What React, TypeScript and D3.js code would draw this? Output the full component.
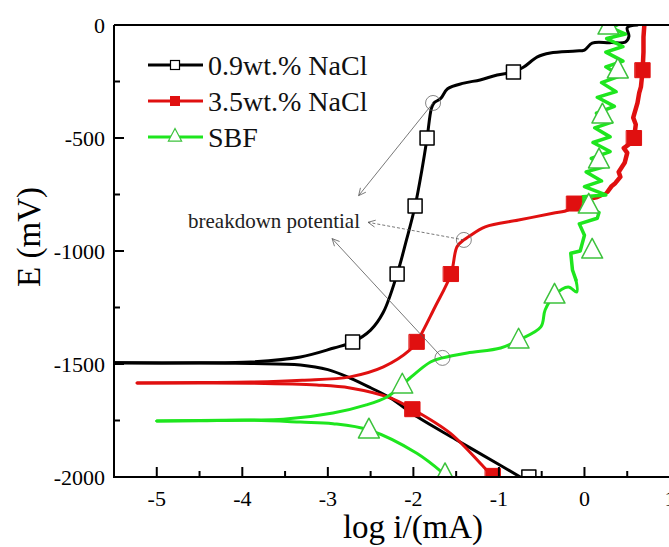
import React from 'react';
import * as d3 from 'd3';

type Pt = [number, number];

// log i (mA), E (mV)
const black09Cathodic: Pt[] = [
  [-5.5, -1495], [-4.5, -1496], [-3.9, -1498], [-3.32, -1504], [-3.0, -1525], [-2.74, -1562],
  [-2.5, -1605], [-2.27, -1650], [-1.95, -1735], [-1.5, -1835], [-1.0, -1945], [-0.75, -2000],
];
const black09Anodic: Pt[] = [
  [-5.5, -1495], [-4.5, -1495], [-3.9, -1491], [-3.32, -1469], [-2.93, -1429], [-2.71, -1403],
  [-2.5, -1350], [-2.35, -1270], [-2.19, -1102], [-2.08, -950], [-1.98, -801], [-1.9, -640],
  [-1.84, -500], [-1.79, -370], [-1.76, -345], [-1.68, -325], [-1.6, -282], [-1.41, -257],
  [-1.22, -243], [-1.02, -221], [-0.83, -208], [-0.71, -186], [-0.55, -141], [-0.4, -124],
  [-0.1, -115], [0.0, -111], [0.09, -80], [0.3, -78], [0.48, -75], [0.52, -50], [0.5, -12], [0.62, 0],
];
const black09Markers: Pt[] = [
  [-0.65, -2000], [-2.71, -1403], [-2.19, -1102], [-1.98, -801], [-1.84, -500], [-0.83, -208],
];

const red35Cathodic: Pt[] = [
  [-5.23, -1584], [-4.5, -1584], [-3.9, -1585], [-3.13, -1593], [-2.74, -1606], [-2.27, -1650],
  [-2.01, -1700], [-1.57, -1806], [-1.18, -1955], [-1.07, -2000],
];
const red35Anodic: Pt[] = [
  [-5.23, -1584], [-4.5, -1582], [-3.9, -1580], [-3.3, -1572], [-2.74, -1557], [-2.35, -1513],
  [-2.04, -1438], [-1.96, -1402], [-1.75, -1250], [-1.56, -1102], [-1.49, -981], [-1.41, -951],
  [-1.36, -938], [-1.16, -893], [-0.77, -863], [-0.37, -833], [-0.19, -818], [-0.12, -790],
  [-0.01, -775], [0.15, -765], [0.27, -738], [0.32, -712], [0.36, -700], [0.42, -672],
  [0.4, -650], [0.47, -610], [0.5, -566], [0.46, -545], [0.55, -520], [0.58, -500],
  [0.6, -440], [0.57, -410], [0.62, -345], [0.64, -300], [0.66, -274], [0.68, -200],
  [0.69, -120], [0.69, -53], [0.7, 0],
];
const red35Markers: Pt[] = [
  [-1.07, -1995], [-2.01, -1700], [-1.96, -1402], [-1.56, -1102], [-0.12, -790], [0.58, -500], [0.68, -200],
];

const sbfCathodic: Pt[] = [
  [-5.0, -1752], [-4.5, -1751], [-3.9, -1749], [-3.32, -1757], [-2.94, -1764], [-2.52, -1792],
  [-1.96, -1895], [-1.63, -1990], [-1.6, -2000],
];
const sbfAnodic: Pt[] = [
  [-5.0, -1752], [-4.5, -1750], [-3.9, -1748], [-3.52, -1745], [-2.94, -1717], [-2.55, -1681],
  [-2.31, -1646], [-2.13, -1593], [-2.04, -1562], [-1.8, -1491], [-1.66, -1473], [-1.37, -1451],
  [-0.98, -1429], [-0.77, -1394], [-0.51, -1336], [-0.46, -1261], [-0.35, -1195], [-0.19, -1159],
  [-0.09, -1181], [-0.1, -1128], [-0.14, -1084], [-0.16, -1010], [-0.05, -1000], [0.0, -930],
  [-0.06, -880], [0.15, -855], [0.17, -830], [0.0, -800], [-0.02, -760], [0.25, -752],
  [0.0, -715], [0.2, -690], [0.02, -650], [0.25, -625], [0.08, -590], [0.3, -560],
  [0.1, -520], [0.3, -495], [0.12, -455], [0.32, -430], [0.14, -390], [0.35, -360],
  [0.15, -320], [0.37, -295], [0.2, -255], [0.42, -225], [0.25, -185], [0.45, -160],
  [0.25, -120], [0.45, -95], [0.26, -60], [0.48, -40], [0.3, -10], [0.38, 0],
];
const sbfMarkers: Pt[] = [
  [-1.63, -1990], [-2.52, -1792], [-2.13, -1593], [-0.77, -1394], [-0.35, -1195], [0.09, -996],
  [0.05, -797], [0.17, -597], [0.21, -398], [0.39, -199], [0.28, -5],
];

// breakdown points (circled) and where the arrows end
const breakdownCircles: Pt[] = [[-1.77, -345], [-1.41, -951], [-1.66, -1473]];
const arrowTips: Pt[] = [[-2.64, -755], [-2.53, -873], [-2.95, -945]];

const xTicks = [-5, -4, -3, -2, -1, 0, 1];
const yTicks = [0, -500, -1000, -1500, -2000];
const legendLabels = ['0.9wt.% NaCl', '3.5wt.% NaCl', 'SBF'];

const W = 669;
const H = 547;
const serif = "Liberation Serif, Times New Roman, serif";
const BLACK = '#000000';
const RED = '#e01010';
const GREEN = '#1ee61e';
const TRI = '#3cc23c';

const x = d3.scaleLinear().domain([-5.5, 1]).range([114, 670]);
const y = d3.scaleLinear().domain([-2000, 0]).range([477, 25]);

const line = d3.line<Pt>().x(d => x(d[0])).y(d => y(d[1])).curve(d3.curveCatmullRom.alpha(0.5));
const jagged = d3.line<Pt>().x(d => x(d[0])).y(d => y(d[1])).curve(d3.curveLinear);

const tri = (cx: number, cy: number, s: number) =>
  `M${cx},${cy - s * 0.62}L${cx + s * 0.55},${cy + s * 0.42}L${cx - s * 0.55},${cy + s * 0.42}Z`;

const Arrow = ({ from, to, dashed }: { from: Pt; to: Pt; dashed?: boolean }) => {
  const x1 = x(from[0]), y1 = y(from[1]), x2 = x(to[0]), y2 = y(to[1]);
  const a = Math.atan2(y2 - y1, x2 - x1);
  const len = 8, spread = 0.45;
  const h1 = [x2 - len * Math.cos(a - spread), y2 - len * Math.sin(a - spread)];
  const h2 = [x2 - len * Math.cos(a + spread), y2 - len * Math.sin(a + spread)];
  return (
    <g stroke="#555" strokeWidth={0.8} fill="none">
      <line x1={x1} y1={y1} x2={x2} y2={y2} strokeDasharray={dashed ? '3,2' : undefined} />
      <path d={`M${h1[0]},${h1[1]}L${x2},${y2}L${h2[0]},${h2[1]}`} />
    </g>
  );
};

export default function App() {
  const [x0, x1] = x.range();
  const [yb, yt] = y.range();
  const minorX = d3.range(-5.5, 1.01, 0.5).filter(v => !xTicks.includes(v));
  const minorY = [-250, -750, -1250, -1750];
  const legendY = [65, 101, 137];

  return (
    <>
      <style>{`body{margin:0}`}</style>
      <svg width={W} height={H} style={{ display: 'block', background: '#fff', fontFamily: serif }}>
        <defs>
          <clipPath id="plot">
            <rect x={x0} y={yt} width={x1 - x0} height={yb - yt} />
          </clipPath>
        </defs>

        <g clipPath="url(#plot)" fill="none" strokeLinejoin="round" strokeLinecap="round">
          <path d={line(black09Cathodic)!} stroke={BLACK} strokeWidth={3} />
          <path d={line(black09Anodic)!} stroke={BLACK} strokeWidth={3} />
          <path d={line(red35Cathodic)!} stroke={RED} strokeWidth={3} />
          <path d={line(red35Anodic.slice(0, 21))!} stroke={RED} strokeWidth={3} />
          <path d={jagged(red35Anodic.slice(20))!} stroke={RED} strokeWidth={4.5} />
          <path d={line(sbfCathodic)!} stroke={GREEN} strokeWidth={3} />
          <path d={line(sbfAnodic.slice(0, 20))!} stroke={GREEN} strokeWidth={3} />
          <path d={jagged(sbfAnodic.slice(19))!} stroke={GREEN} strokeWidth={3.5} />

          {black09Markers.map((d, i) => (
            <rect key={'b' + i} x={x(d[0]) - 7} y={y(d[1]) - 7} width={14} height={14}
              fill="#fff" stroke={BLACK} strokeWidth={1.5} />
          ))}
          {red35Markers.map((d, i) => (
            <rect key={'r' + i} x={x(d[0]) - 7.5} y={y(d[1]) - 7.5} width={15} height={15}
              fill={RED} stroke={RED} strokeWidth={1} />
          ))}
          {sbfMarkers.map((d, i) => (
            <path key={'g' + i} d={tri(x(d[0]), y(d[1]), 19)} fill="#fff" stroke={TRI} strokeWidth={1.5} />
          ))}
        </g>

        {/* breakdown potential annotation */}
        {breakdownCircles.map((d, i) => (
          <circle key={'c' + i} cx={x(d[0])} cy={y(d[1])} r={7.5} fill="none" stroke="#666" strokeWidth={0.8} />
        ))}
        {breakdownCircles.map((d, i) => (
          <Arrow key={'a' + i} from={d} to={arrowTips[i]} dashed={i === 1} />
        ))}
        <text x={188} y={228} fontFamily={serif} fontSize={21} fill="#222">breakdown potential</text>

        {/* frame */}
        <g stroke={BLACK} strokeWidth={2} fill="none">
          <line x1={x0} y1={yt} x2={x1} y2={yt} />
          <line x1={x0} y1={yt} x2={x0} y2={yb + 1} />
          <line x1={x0 - 1} y1={yb} x2={x1} y2={yb} />
        </g>

        {/* ticks point inward */}
        <g stroke={BLACK} strokeWidth={2}>
          {xTicks.map(v => <line key={v} x1={x(v)} x2={x(v)} y1={yb} y2={yb - 10} />)}
          {minorX.map(v => <line key={v} x1={x(v)} x2={x(v)} y1={yb} y2={yb - 6} />)}
          {yTicks.map(v => <line key={v} x1={x0} x2={x0 + 10} y1={y(v)} y2={y(v)} />)}
          {minorY.map(v => <line key={v} x1={x0} x2={x0 + 6} y1={y(v)} y2={y(v)} />)}
        </g>
        <g fontFamily={serif} fontSize={22} fill={BLACK}>
          {xTicks.map(v => (
            <text key={v} x={x(v)} y={506} textAnchor="middle">{v}</text>
          ))}
          {yTicks.map(v => (
            <text key={v} x={105} y={y(v)} dy="0.35em" textAnchor="end">{v}</text>
          ))}
        </g>

        <text x={413} y={538} textAnchor="middle" fontFamily={serif} fontSize={33}>log i/(mA)</text>
        <text transform={`translate(40,${237}) rotate(-90)`} textAnchor="middle" fontFamily={serif} fontSize={33}>E (mV)</text>

        {/* legend */}
        {legendLabels.map((label, i) => {
          const ly = legendY[i];
          const color = [BLACK, RED, GREEN][i];
          return (
            <g key={label}>
              <line x1={148} x2={203} y1={ly} y2={ly} stroke={color} strokeWidth={3} />
              {i === 0 && <rect x={170.5} y={ly - 4.5} width={9} height={9} fill="#fff" stroke={BLACK} strokeWidth={1.2} />}
              {i === 1 && <rect x={170} y={ly - 5} width={10} height={10} fill={RED} />}
              {i === 2 && <path d={tri(175, ly - 1, 12)} fill="#fff" stroke={TRI} strokeWidth={1.2} />}
              <text x={208} y={ly} dy="0.35em" fontFamily={serif} fontSize={28} fill="#111">{label}</text>
            </g>
          );
        })}
      </svg>
    </>
  );
}
